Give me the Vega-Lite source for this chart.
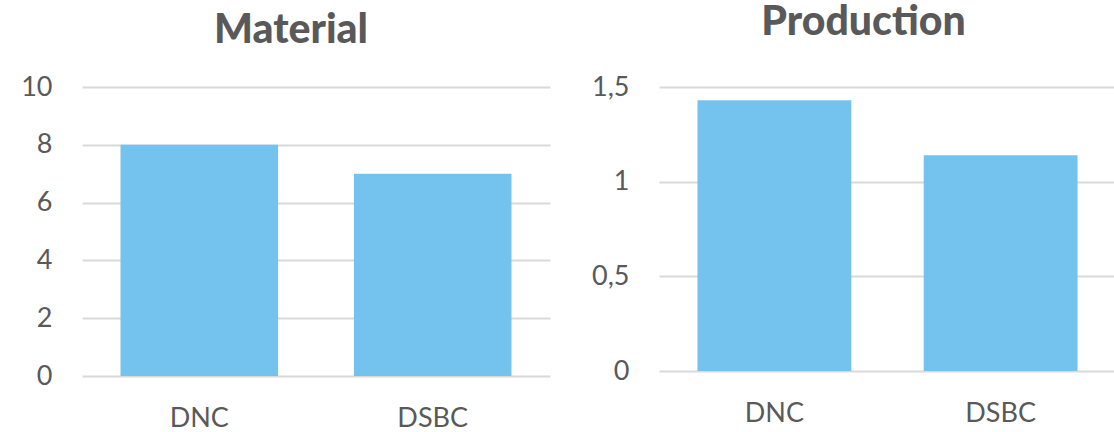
{
  "$schema": "https://vega.github.io/schema/vega-lite/v6.json",
  "padding": {"left": 20, "top": 2, "right": 0, "bottom": 2},
  "background": "white",
  "datasets": {
    "material": [{"category": "DNC", "value": 8}, {"category": "DSBC", "value": 7}],
    "production": [{"category": "DNC", "value": 1.43}, {"category": "DSBC", "value": 1.14}]
  },
  "bounds": "flush",
  "spacing": 109,
  "hconcat": [
    {
      "width": 468,
      "height": 289,
      "data": {"name": "material"},
      "title": {"text": "Material", "offset": 21, "dx": -25},
      "mark": {"type": "bar", "color": "#74C3EE"},
      "encoding": {
        "x": {"field": "category", "type": "nominal", "scale": {"paddingInner": 0.325, "paddingOuter": 0.165}, "axis": {"title": null, "labelAngle": 0}},
        "y": {"field": "value", "type": "quantitative", "scale": {"domain": [0, 10]}, "axis": {"title": null, "values": [0, 2, 4, 6, 8, 10]}}
      }
    },
    {
      "width": 457,
      "height": 284,
      "data": {"name": "production"},
      "title": {"text": "Production", "offset": 29, "dx": -24},
      "mark": {"type": "bar", "color": "#74C3EE"},
      "encoding": {
        "x": {"field": "category", "type": "nominal", "scale": {"paddingInner": 0.32, "paddingOuter": 0.17}, "axis": {"title": null, "labelAngle": 0}},
        "y": {"field": "value", "type": "quantitative", "scale": {"domain": [0, 1.5]}, "axis": {"title": null, "values": [0, 0.5, 1, 1.5], "labelExpr": "replace(format(datum.value, '~g'), '.', ',')"}}
      }
    }
  ],
  "config": {
    "view": {"stroke": null},
    "font": "Lato",
    "axis": {"labelFont": "Lato", "labelFontSize": 27, "labelColor": "#595959", "domain": false, "ticks": false, "gridColor": "#D9D9D9", "gridWidth": 2},
    "axisY": {"labelPadding": 30},
    "axisX": {"labelPadding": 29, "grid": false},
    "title": {"font": "Lato", "fontSize": 41, "fontWeight": 900, "color": "#595959", "anchor": "middle"}
  }
}
